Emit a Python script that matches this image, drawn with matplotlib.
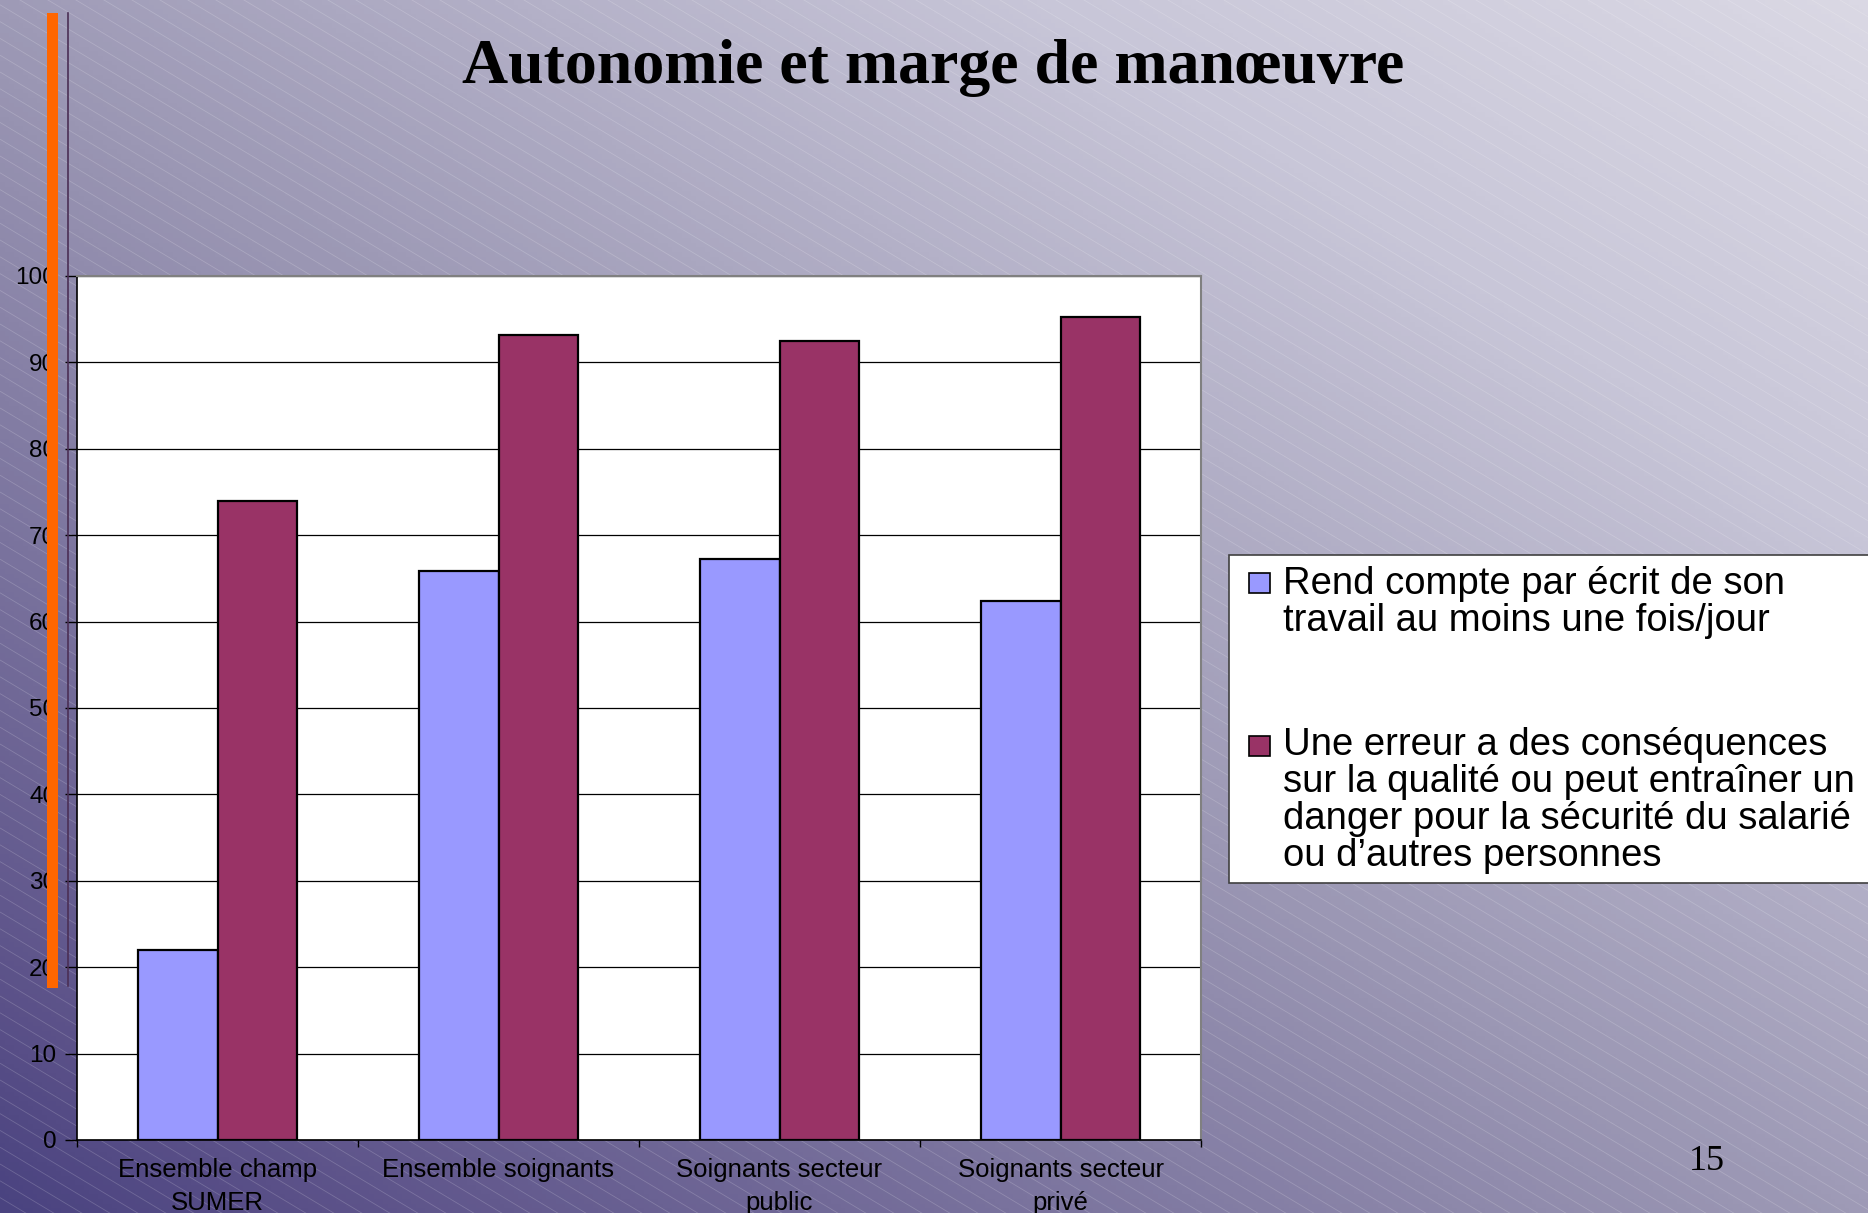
import numpy as np
import matplotlib.pyplot as plt
from matplotlib.colors import LinearSegmentedColormap
from matplotlib.collections import LineCollection
from matplotlib.patches import Rectangle

# data
categories = ['Ensemble champ\nSUMER', 'Ensemble soignants',
              'Soignants secteur\npublic', 'Soignants secteur\nprivé']
rend_compte = [22.0, 65.9, 67.3, 62.4]
erreur = [74.0, 93.2, 92.5, 95.3]
series_labels = ['Rend compte par écrit de son\ntravail au moins une fois/jour',
                 'Une erreur a des conséquences\nsur la qualité ou peut entraîner un\n'
                 'danger pour la sécurité du salarié\nou d’autres personnes']
yticks = [0, 10, 20, 30, 40, 50, 60, 70, 80, 90, 100]
title = 'Autonomie et marge de manœuvre'
page = '15'

blue = '#9999ff'
plum = '#993366'
W, H = 1868, 1213

fig = plt.figure(figsize=(W / 100, H / 100), dpi=100)

# slide background: diagonal gradient + thin white hatch lines
bg = fig.add_axes([0, 0, 1, 1], zorder=-10)
cmap = LinearSegmentedColormap.from_list('slide', [(0, '#4a4380'), (0.08, '#5a5088'),
                                                   (0.47, '#9a96b3'), (0.78, '#c8c6d8'),
                                                   (1, '#dad8e4')])
xx, yy = np.meshgrid(np.linspace(0, 1, 400), np.linspace(0, 1, 260))
t = (xx + 1 - yy) / 2
bg.imshow(t, cmap=cmap, extent=(0, W, H, 0), aspect='auto', vmin=0, vmax=1)
segs = []
for y0 in np.arange(-0.6 * W, H, 16.8):
    segs.append([(0, y0), (W, y0 + 0.6 * W)])
bg.add_collection(LineCollection(segs, colors='white', alpha=0.18, linewidths=0.6))
bg.set_xlim(0, W)
bg.set_ylim(H, 0)
bg.axis('off')

# chart
ax = fig.add_axes([77 / W, 1 - 1140 / H, (1201 - 77) / W, (1140 - 276) / H])
x = np.arange(len(categories))
w = 0.284
ax.bar(x - w / 2, rend_compte, w, color=blue, edgecolor='black', linewidth=1.6)
ax.bar(x + w / 2, erreur, w, color=plum, edgecolor='black', linewidth=1.6)
ax.set_xlim(-0.5, len(categories) - 0.5)
ax.set_ylim(0, 100)
ax.set_yticks(yticks)
ax.yaxis.grid(True, color='black', linewidth=0.9)
ax.set_axisbelow(True)
ax.set_xticks(np.arange(len(categories) + 1) - 0.5)
ax.set_xticklabels([])
ax.set_xticks(x, minor=True)
ax.set_xticklabels(categories, minor=True, fontsize=18.5, family='Liberation Sans',
                   linespacing=1.45)
ax.tick_params(axis='x', which='minor', length=0, pad=13)
ax.tick_params(axis='x', which='major', length=5, width=1, direction='out')
ax.tick_params(axis='y', length=9, width=1, pad=6, labelsize=17.5)
for lab in ax.get_yticklabels():
    lab.set_family('Liberation Sans')
ax.spines['top'].set_color('#808080')
ax.spines['right'].set_color('#808080')
ax.spines['top'].set_linewidth(1.5)
ax.spines['right'].set_linewidth(1.5)
ax.spines['left'].set_linewidth(1.2)
ax.spines['bottom'].set_linewidth(1.2)

# overlay: orange rule, dark rule, legend box
top = fig.add_axes([0, 0, 1, 1], zorder=10)
top.set_xlim(0, W)
top.set_ylim(H, 0)
top.axis('off')
top.add_patch(Rectangle((47, 13), 11, 975, color='#ff6600', lw=0))
top.plot([68, 68], [13, 986], color='#4b2f55', lw=1.2)

top.add_patch(Rectangle((1229, 555), 700, 328, facecolor='white', edgecolor='#404040', lw=1.2))
markers_y = [573, 736]
first_base = [594, 755]
for col, lab, my, by in zip([blue, plum], series_labels, markers_y, first_base):
    top.add_patch(Rectangle((1249, my), 21, 20, facecolor=col, edgecolor='black', lw=1.2))
    for k, line in enumerate(lab.split('\n')):
        top.text(1283, by + k * 36.9, line, fontsize=27.5, family='Liberation Sans',
                 ha='left', va='baseline')

fig.text(933 / W, 1 - 83 / H, title, family='Liberation Serif', weight='bold',
         fontsize=46, ha='center', va='baseline')
fig.text(1707 / W, 1 - 1170 / H, page, family='Liberation Serif', fontsize=26,
         ha='center', va='baseline')

fig.savefig('out.png', dpi=100)
